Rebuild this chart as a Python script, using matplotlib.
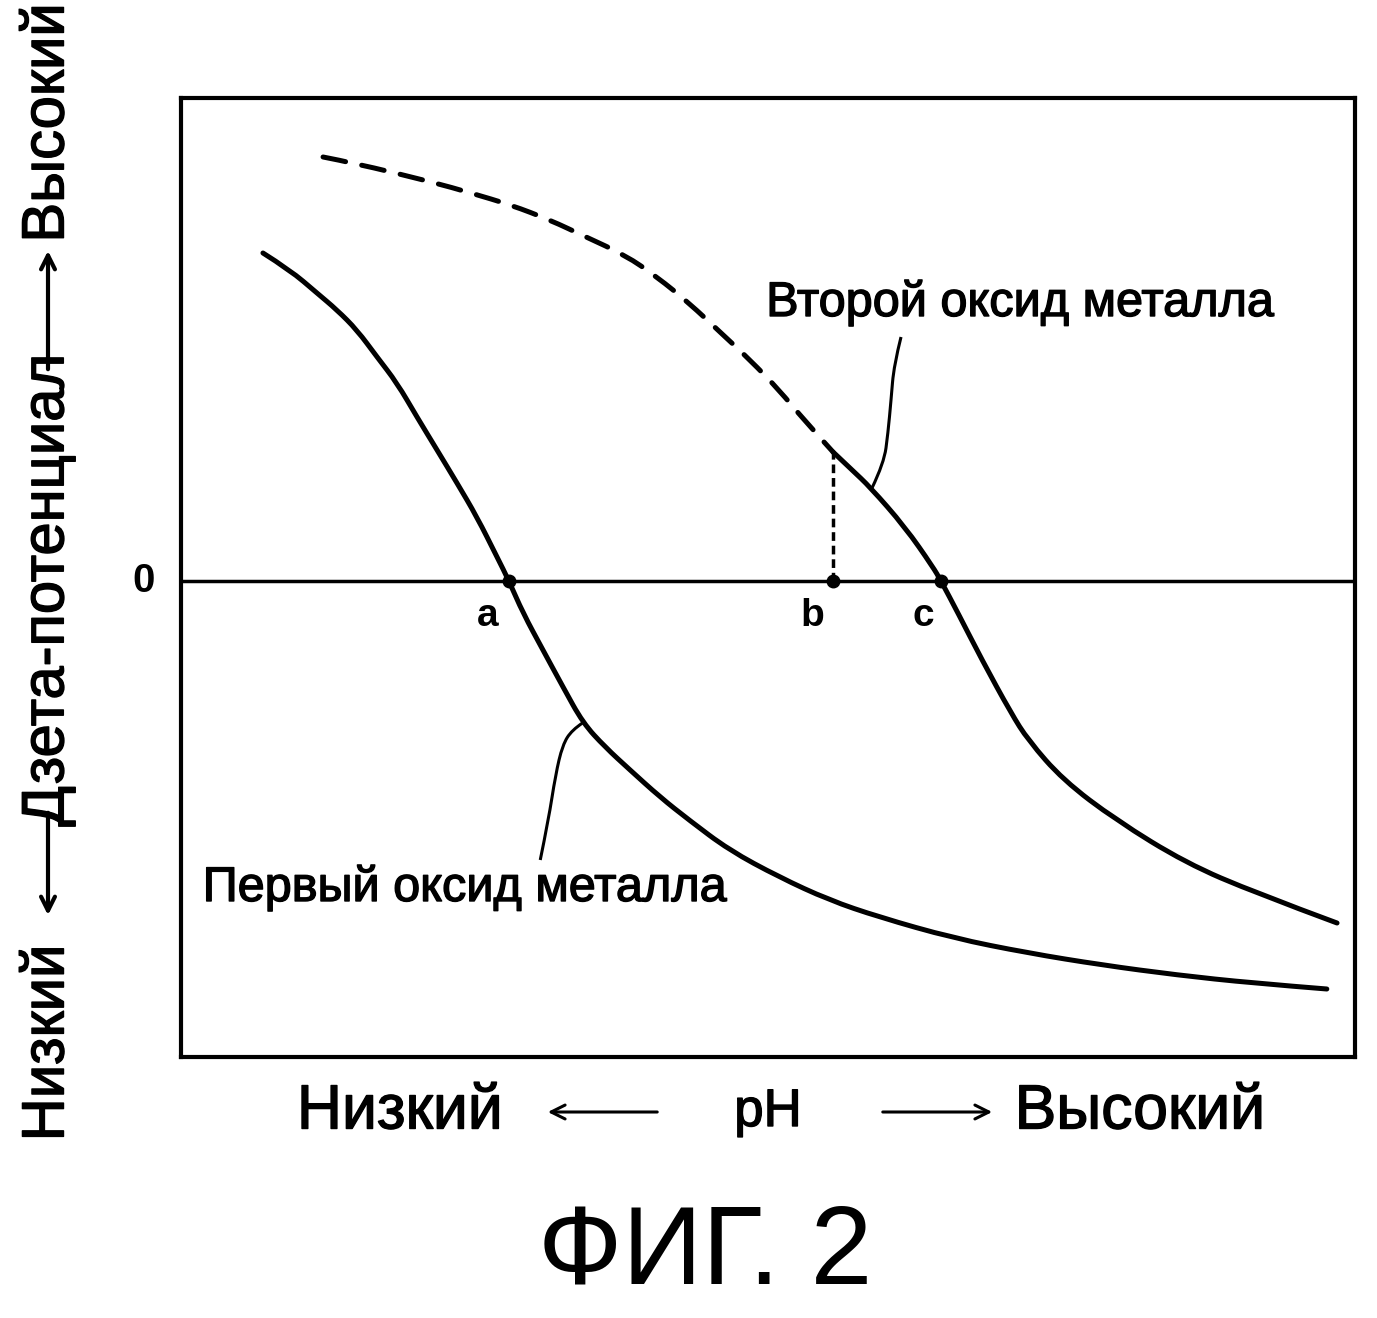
import numpy as np
import matplotlib
matplotlib.use("Agg")
import matplotlib.pyplot as plt
import matplotlib.patheffects as pe
from matplotlib.patches import FancyArrowPatch, PathPatch
from matplotlib.path import Path

plt.rcParams['font.family'] = ['Liberation Sans', 'DejaVu Sans']

# first metal oxide (solid curve), pH in arbitrary units 0..100, zeta arbitrary
x1 = [6.98, 9.28, 11.58, 13.29, 14.99, 16.70, 18.40, 20.10, 21.81, 23.51, 25.21,
      26.92, 27.94, 29.13, 30.83, 32.54, 34.24, 36.12, 38.25, 40.80, 43.27, 46.68,
      50.94, 55.20, 59.45, 65.76, 72.15, 78.45, 84.84, 91.23, 97.6]
y1 = [32.8, 31.1, 28.8, 27.1, 25.1, 22.4, 19.8, 16.4, 13.1, 9.8, 6.4,
      2.4, 0.0, -3.2, -6.9, -10.6, -14.2, -16.6, -18.9, -21.6, -23.9, -26.9,
      -29.6, -31.9, -33.6, -35.7, -37.2, -38.4, -39.4, -40.2, -40.8]

# second metal oxide: dashed part (below pH b) and solid part
x2d = [12.10, 14.74, 21.38, 24.70, 28.11, 31.43, 34.50, 37.82, 40.55, 43.27,
       46.00, 48.47, 50.94, 53.07, 55.54]
y2d = [42.4, 41.8, 39.9, 38.8, 37.6, 36.1, 34.4, 32.6, 30.4, 27.8,
       24.8, 22.1, 19.1, 16.1, 12.9]
x2s = [55.54, 57.16, 58.69, 61.67, 64.05, 64.74, 66.18, 68.23, 70.70, 72.15,
       75.13, 79.64, 85.60, 91.57, 98.47]
y2s = [12.9, 11.1, 9.4, 5.4, 1.4, 0.0, -3.2, -7.9, -13.2, -15.9,
       -19.9, -23.9, -28.2, -31.2, -34.2]

# points a, b, c on the zero line
pts_x = [27.94, 55.54, 64.74]
pts_lab = ['a', 'b', 'c']

# leader lines for the labels
lead1_x = [30.6, 31.3, 31.9, 32.5, 33.3, 34.2]
lead1_y = [-27.9, -23.9, -19.4, -16.4, -14.9, -14.2]
lead2_x = [58.86, 59.88, 60.22, 60.48, 60.73, 61.33]
lead2_y = [9.3, 11.8, 14.8, 18.1, 21.6, 24.4]


def smooth(ax, xs, ys, **kw):
    # quadratic bezier through midpoints, read points act as control points
    pts = list(zip(xs, ys))
    verts = [pts[0]]
    codes = [Path.MOVETO]
    for i in range(1, len(pts) - 1):
        mid = ((pts[i][0] + pts[i + 1][0]) / 2, (pts[i][1] + pts[i + 1][1]) / 2)
        if i == len(pts) - 2:
            mid = pts[-1]
        verts += [pts[i], mid]
        codes += [Path.CURVE3, Path.CURVE3]
    ax.add_patch(PathPatch(Path(verts, codes), fill=False, color='k', **kw))


W, H = 1377, 1318
fig = plt.figure(figsize=(W / 100, H / 100), dpi=100)
ax = fig.add_axes([181 / W, 1 - 1057 / H, 1174 / W, 959 / H])
ax.set_xlim(0, 100)
ax.set_ylim(-47.6, 48.3)
ax.set_xticks([])
ax.set_yticks([])
for s in ax.spines.values():
    s.set_linewidth(3)

bold = [pe.withStroke(linewidth=1.0, foreground='k')]

ax.axhline(0, color='k', lw=2.5)
smooth(ax, x1, y1, lw=3.6, capstyle='round', joinstyle='round')
smooth(ax, x2d, y2d, lw=3.6, linestyle=(0, (4.6, 3.3)), capstyle='round')
smooth(ax, x2s, y2s, lw=3.6, capstyle='round', joinstyle='round')
ax.plot([pts_x[1], pts_x[1]], [0, y2s[0]], color='k', lw=2.5, dashes=(2.5, 1.4))
ax.plot(pts_x, [0] * 3, 'o', color='k', ms=9)
smooth(ax, lead1_x, lead1_y, lw=2.2)
smooth(ax, lead2_x, lead2_y, lw=2.2)

for px, lab in zip(pts_x, pts_lab):
    ax.text(px - 1.8 + (0.3 if lab == 'c' else 0), -3.5, lab, fontsize=28, fontweight='bold',
            ha='center', va='center')

ax.text(-3.2, 0, '0', fontsize=29, fontweight='bold', ha='center', va='center', clip_on=False)

ax.text(71.5, 27.8, 'Второй оксид металла', fontsize=35, ha='center', va='center',
        path_effects=bold)
ax.text(24.2, -30.7, 'Первый оксид металла', fontsize=35, ha='center', va='center',
        path_effects=bold)

# bottom pH axis label
fy = 1 - 1112 / H
fig.text(400 / W, fy, 'Низкий', fontsize=45, ha='center', va='center', path_effects=bold)
fig.text(768 / W, fy, 'pH', fontsize=38, ha='center', va='center', path_effects=bold)
fig.text(1140 / W, fy, 'Высокий', fontsize=45, ha='center', va='center', path_effects=bold)
fig.add_artist(FancyArrowPatch((660 / W, fy), (545 / W, fy), transform=fig.transFigure,
                               arrowstyle='->', mutation_scale=25, lw=2.2, color='k'))
fig.add_artist(FancyArrowPatch((880 / W, fy), (995 / W, fy), transform=fig.transFigure,
                               arrowstyle='->', mutation_scale=25, lw=2.2, color='k'))

# left zeta axis label (rotated)
fx = 48 / W
fig.text(fx, 1 - 1043 / H, 'Низкий', fontsize=43, rotation=90, ha='center', va='center',
         path_effects=bold)
fig.text(fx, 1 - 590 / H, 'Дзета-потенциал', fontsize=43, rotation=90, ha='center',
         va='center', path_effects=bold)
fig.text(fx, 1 - 123 / H, 'Высокий', fontsize=43, rotation=90, ha='center', va='center',
         path_effects=bold)
fig.add_artist(FancyArrowPatch((fx, 1 - 810 / H), (fx, 1 - 918 / H), transform=fig.transFigure,
                               arrowstyle='->', mutation_scale=25, lw=3, color='k'))
fig.add_artist(FancyArrowPatch((fx, 1 - 372 / H), (fx, 1 - 248 / H), transform=fig.transFigure,
                               arrowstyle='->', mutation_scale=25, lw=3, color='k'))

fig.text(705 / W, 1 - 1255 / H, 'ФИГ. 2', fontsize=80, ha='center', va='center')

fig.savefig('out.png', dpi=100)
